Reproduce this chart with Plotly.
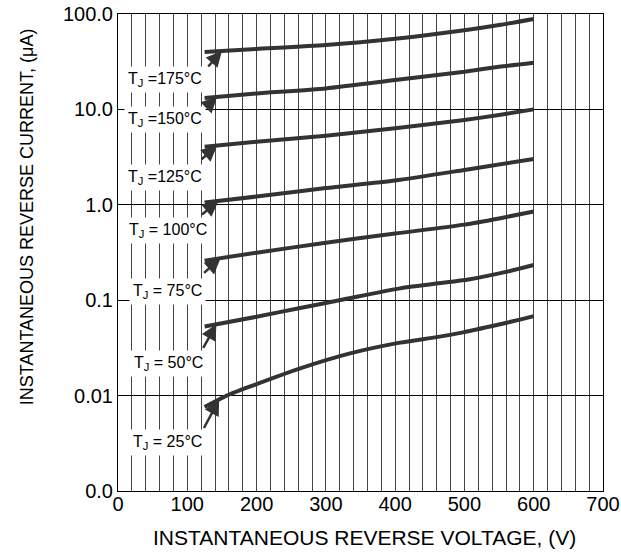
import numpy as np
import plotly.graph_objects as go

# ---- data ----
temps = ["175", "150", "125", "100", "75", "50", "25"]
labels = ["T<sub>J</sub> =175°C", "T<sub>J</sub> =150°C", "T<sub>J</sub> =125°C",
          "T<sub>J</sub> = 100°C", "T<sub>J</sub> = 75°C", "T<sub>J</sub> = 50°C",
          "T<sub>J</sub> = 25°C"]

v_175 = [125, 200, 300, 400, 450, 500, 550, 600]
i_175 = [40.0, 43.0, 47.3, 55.0, 60.5, 67.5, 76.5, 88.6]

v_150 = [125, 200, 300, 400, 500, 550, 600]
i_150 = [13.2, 14.7, 16.6, 20.3, 24.8, 28.0, 30.9]

v_125 = [125, 200, 300, 400, 500, 550, 600]
i_125 = [4.06, 4.59, 5.30, 6.34, 7.74, 8.74, 10.0]

v_100 = [125, 200, 300, 400, 500, 600]
i_100 = [1.06, 1.22, 1.50, 1.80, 2.32, 3.02]

v_75 = [125, 200, 300, 400, 500, 550, 600]
i_75 = [0.26, 0.315, 0.40, 0.50, 0.62, 0.72, 0.85]

v_50 = [125, 200, 263, 325, 407, 508, 560, 600]
i_50 = [0.053, 0.067, 0.083, 0.1016, 0.133, 0.166, 0.198, 0.234]

v_25 = [125, 157, 190, 263, 335, 407, 460, 498, 537, 580, 600]
i_25 = [0.0076, 0.0100, 0.0124, 0.0193, 0.0277, 0.0359, 0.0410, 0.0460,
        0.0530, 0.0625, 0.068]

series_v = [v_175, v_150, v_125, v_100, v_75, v_50, v_25]
series_i = [i_175, i_150, i_125, i_100, i_75, i_50, i_25]

# label centres (V, uA) and arrow tip voltage
label_v = [68, 68, 68, 72, 72, 73, 71]
label_i = [20.4, 7.76, 1.95, 0.532, 0.122, 0.0215, 0.00319]
arrow_tip_v = [150, 143, 143, 145, 148, 142, 146]
arrow_ax = [-15, -10, -17, -18, -18, -14, -16]
arrow_ay = [17, 10, 15, 15, 16, 25, 30]

x_ticks = [0, 100, 200, 300, 400, 500, 600, 700]
y_ticks = [0.001, 0.01, 0.1, 1, 10, 100]
y_ticktext = ["0.0", "0.01", "0.1", "1.0", "10.0", "100.0"]

x_title = "INSTANTANEOUS REVERSE VOLTAGE, (V)"
y_title = "INSTANTANEOUS REVERSE CURRENT, (μA)"

CURVE = "#333333"
FONT = "Liberation Sans, Arial, sans-serif"

fig = go.Figure()
for v, i in zip(series_v, series_i):
    fig.add_trace(go.Scatter(x=v, y=i, mode="lines",
                             line=dict(color=CURVE, width=4, shape="spline", smoothing=0.6),
                             showlegend=False, hoverinfo="skip"))

for k in range(len(temps)):
    fig.add_annotation(x=label_v[k], y=np.log10(label_i[k]), text=labels[k],
                       showarrow=False, bgcolor="white", borderpad=3,
                       font=dict(family=FONT, size=16, color="black"))
    tip_y = np.interp(arrow_tip_v[k], series_v[k], np.log10(series_i[k]))
    fig.add_annotation(x=arrow_tip_v[k], y=tip_y, text="", showarrow=True,
                       ax=arrow_ax[k], ay=arrow_ay[k], arrowhead=2, arrowsize=1.25,
                       arrowwidth=2.5, arrowcolor=CURVE, standoff=0)

# axis titles placed as paper annotations
fig.add_annotation(xref="paper", yref="paper", x=0.509, y=-0.0985, text=x_title,
                   showarrow=False, xanchor="center", yanchor="middle",
                   font=dict(family=FONT, size=21, color="black"))
fig.add_annotation(xref="paper", yref="paper", x=-0.186, y=0.5755, text=y_title,
                   showarrow=False, xanchor="center", yanchor="middle", textangle=-90,
                   font=dict(family=FONT, size=18, color="black"))

fig.update_layout(
    width=621, height=556,
    margin=dict(l=118, r=18, t=14, b=65),
    paper_bgcolor="white", plot_bgcolor="white",
    font=dict(family=FONT, size=20, color="black"),
    showlegend=False,
)
fig.update_xaxes(range=[0, 700], tickvals=x_ticks, showline=True, linecolor="black",
                 linewidth=1, mirror=True, ticks="", showgrid=True, automargin=False,
                 gridcolor="#444444", gridwidth=1, zeroline=False,
                 minor=dict(dtick=20, showgrid=True, gridcolor="#444444", gridwidth=1),
                 tickfont=dict(size=20), ticklabelstandoff=-5)
fig.update_yaxes(type="log", range=[-3, 2], tickvals=y_ticks, ticktext=y_ticktext,
                 showline=True, linecolor="black", linewidth=1, mirror=True, ticks="",
                 showgrid=True, gridcolor="black", gridwidth=1, zeroline=False,
                 automargin=False, tickfont=dict(size=20))

# remove the page's default 8px body margin so the figure fills the window
fig.write_html("out.html", config={"displayModeBar": False},
               post_script="document.body.style.margin='0';document.body.style.overflow='hidden';")
